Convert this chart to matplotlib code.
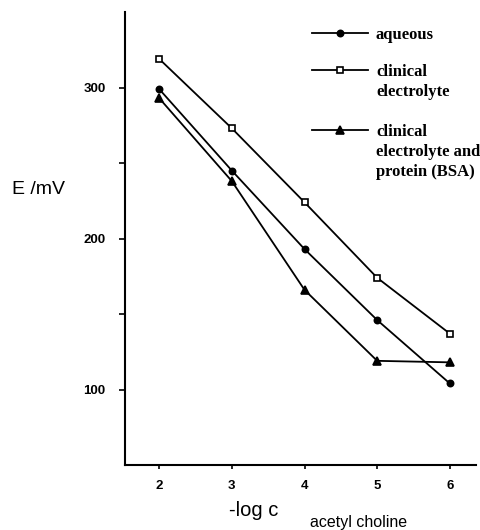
import matplotlib
matplotlib.use('Agg')
import matplotlib.pyplot as plt
from matplotlib.lines import Line2D

# -log c (acetyl choline)
log_c = [2, 3, 4, 5, 6]
aqueous = [299, 245, 193, 146, 104]
clinical = [319, 273, 224, 174, 137]
clinical_bsa = [293, 238, 166, 119, 118]

series = [
    (aqueous, 'o', 'black', 4.5, 'aqueous'),
    (clinical, 's', 'white', 5, 'clinical\nelectrolyte'),
    (clinical_bsa, '^', 'black', 5.5, 'clinical\nelectrolyte and\nprotein (BSA)'),
]

fig = plt.figure(figsize=(4.8, 5.3), dpi=100)
ax = fig.add_axes([0.2604, 0.1226, 0.7313, 0.8547])

for vals, mk, face, ms, label in series:
    ax.plot(log_c, vals, color='black', lw=1.3, marker=mk, markersize=ms,
            markerfacecolor=face, markeredgecolor='black', markeredgewidth=1.2)

ax.set_xlim(1.53, 6.36)
ax.set_ylim(50, 350)
ax.set_xticks(log_c)
ax.set_yticks([100, 150, 200, 250, 300])
ax.set_yticklabels(['100', '', '200', '', '300'])
for s in ['top', 'right']:
    ax.spines[s].set_visible(False)
for s in ['left', 'bottom']:
    ax.spines[s].set_linewidth(1.5)
ax.tick_params(axis='y', direction='out', length=4, width=1.2, pad=10)
ax.tick_params(axis='x', direction='out', length=3, width=1.2, pad=8)
for lab in ax.get_xticklabels() + ax.get_yticklabels():
    lab.set_fontfamily('Liberation Sans')
    lab.set_fontweight('bold')
    lab.set_fontsize(9.5)

fig.text(12 / 480, 1 - 190 / 530, 'E /mV', family='Liberation Sans', fontsize=14,
         va='center', ha='left')
fig.text(254 / 480, 1 - 510 / 530, '-log c', family='Liberation Sans', fontsize=14.5,
         va='center', ha='center')
fig.text(310 / 480, 1 - 523 / 530, 'acetyl choline', family='Liberation Sans', fontsize=11.5,
         va='center', ha='left')

# legend drawn by hand so the handle sits on the first text line
leg_y = [33, 70, 130]
for (vals, mk, face, ms, label), y in zip(series, leg_y):
    yf = 1 - y / 530
    fig.add_artist(Line2D([312 / 480, 368 / 480], [yf, yf], transform=fig.transFigure,
                          color='black', lw=1.3))
    fig.add_artist(Line2D([340 / 480], [yf], transform=fig.transFigure, marker=mk,
                          markersize=ms, markerfacecolor=face, markeredgecolor='black',
                          markeredgewidth=1.2))
    fig.text(376 / 480, yf + 6 / 530, label, family='Liberation Serif', fontweight='bold',
             fontsize=12, va='top', ha='left', linespacing=1.35)

fig.savefig('out.png', dpi=100)
